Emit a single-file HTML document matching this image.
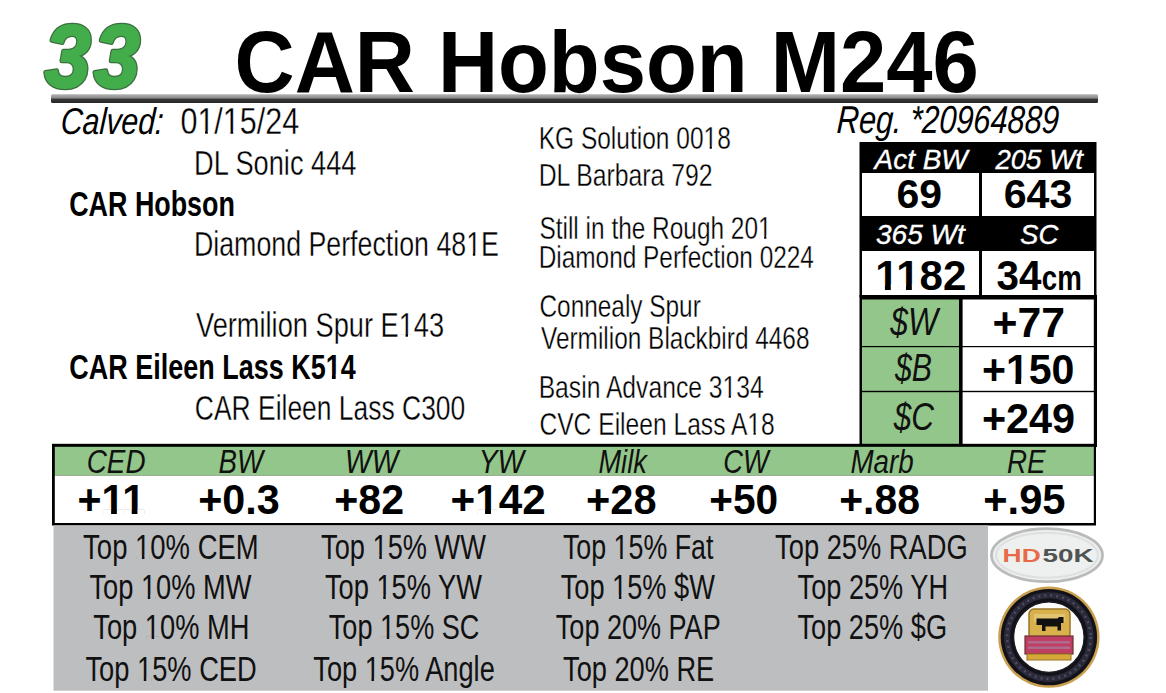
<!DOCTYPE html>
<html><head><meta charset="utf-8"><title>CAR Hobson M246</title>
<style>
html,body{margin:0;padding:0;background:#fff;width:1166px;height:693px;overflow:hidden}
svg{display:block}
text{font-family:"Liberation Sans",sans-serif;font-kerning:normal}
</style></head><body>
<svg width="1166" height="693" viewBox="0 0 1166 693">
<defs><linearGradient id="bar" x1="0" y1="0" x2="0" y2="1"><stop offset="0" stop-color="#b4b4b4"/><stop offset="0.45" stop-color="#8a8a8a"/><stop offset="0.55" stop-color="#3a3a3a"/><stop offset="1" stop-color="#262626"/></linearGradient></defs>
<rect x="51" y="94.2" width="1047" height="8.7" rx="1.5" fill="url(#bar)"/>
<rect x="859.5" y="142" width="237" height="155.5" fill="#000" />
<rect x="862" y="173" width="117" height="43" fill="#fff" />
<rect x="982" y="173" width="112" height="43" fill="#fff" />
<rect x="862" y="251" width="117" height="44" fill="#fff" />
<rect x="982" y="251" width="112" height="44" fill="#fff" />
<rect x="859.5" y="295" width="237.5" height="152" fill="#000" />
<rect x="862" y="299.5" width="97" height="46.5" fill="#93c68a" />
<rect x="862" y="347.2" width="97" height="43.6" fill="#93c68a" />
<rect x="862" y="392.2" width="97" height="51.8" fill="#93c68a" />
<rect x="962.6" y="299.5" width="131.2" height="46.5" fill="#fff" />
<rect x="962.6" y="347.2" width="131.2" height="43.6" fill="#fff" />
<rect x="962.6" y="392.2" width="131.2" height="51.8" fill="#fff" />
<rect x="52" y="443.8" width="1044" height="81.7" fill="#000" />
<rect x="54.8" y="446.8" width="1039" height="28.8" fill="#93c68a" />
<rect x="54.8" y="475.6" width="1039" height="47.4" fill="#fff" />
<rect x="53.5" y="525.4" width="934.5" height="165.3" fill="#bdbec0" />
<text transform="translate(44.65,86.84) scale(0.9379,1)" font-size="88.13" font-weight="bold" font-style="italic" fill="#3c6e40" stroke="#3c6e40" stroke-width="4.60" stroke-linejoin="round">3</text>
<text transform="translate(44.65,86.84) scale(0.9379,1)" font-size="88.13" font-weight="bold" font-style="italic" fill="#42ad4a" stroke="#42ad4a" stroke-width="2.00" stroke-linejoin="round">3</text>
<text transform="translate(94.05,86.84) scale(0.9379,1)" font-size="88.13" font-weight="bold" font-style="italic" fill="#3c6e40" stroke="#3c6e40" stroke-width="4.60" stroke-linejoin="round">3</text>
<text transform="translate(94.05,86.84) scale(0.9379,1)" font-size="88.13" font-weight="bold" font-style="italic" fill="#42ad4a" stroke="#42ad4a" stroke-width="2.00" stroke-linejoin="round">3</text>
<text transform="translate(234.58,91.70) scale(0.9542,1)" font-size="87.21" font-weight="bold" fill="#000" >CAR Hobson M246</text>
<text transform="translate(60.16,134.20) scale(0.8122,1) skewX(-4)" font-size="37.36" font-style="italic" fill="#000" >Calved:</text>
<text transform="translate(180.43,134.20) scale(0.8164,1)" font-size="37.36" fill="#000" stroke="#fff" stroke-width="0.3" vector-effect="non-scaling-stroke">01/15/24</text>
<text transform="translate(836.21,132.90) scale(0.7890,1) skewX(-4)" font-size="38.95" font-style="italic" fill="#000" >Reg. *20964889</text>
<text transform="translate(194.12,174.60) scale(0.7935,1)" font-size="34.30" fill="#000" stroke="#fff" stroke-width="0.3" vector-effect="non-scaling-stroke">DL Sonic 444</text>
<text transform="translate(69.22,215.60) scale(0.7837,1)" font-size="34.30" font-weight="bold" fill="#000" >CAR Hobson</text>
<text transform="translate(193.96,256.20) scale(0.7806,1)" font-size="34.30" fill="#000" stroke="#fff" stroke-width="0.3" vector-effect="non-scaling-stroke">Diamond Perfection 481E</text>
<text transform="translate(196.00,337.40) scale(0.7939,1)" font-size="34.30" fill="#000" stroke="#fff" stroke-width="0.3" vector-effect="non-scaling-stroke">Vermilion Spur E143</text>
<text transform="translate(69.21,378.60) scale(0.7868,1)" font-size="34.30" font-weight="bold" fill="#000" >CAR Eileen Lass K514</text>
<text transform="translate(194.86,419.90) scale(0.7713,1)" font-size="34.30" fill="#000" stroke="#fff" stroke-width="0.3" vector-effect="non-scaling-stroke">CAR Eileen Lass C300</text>
<text transform="translate(538.66,148.80) scale(0.7810,1)" font-size="31.40" fill="#000" stroke="#fff" stroke-width="0.3" vector-effect="non-scaling-stroke">KG Solution 0018</text>
<text transform="translate(538.63,185.90) scale(0.7889,1)" font-size="31.40" fill="#000" stroke="#fff" stroke-width="0.3" vector-effect="non-scaling-stroke">DL Barbara 792</text>
<text transform="translate(539.44,238.80) scale(0.7780,1)" font-size="31.40" fill="#000" stroke="#fff" stroke-width="0.3" vector-effect="non-scaling-stroke">Still in the Rough 201</text>
<text transform="translate(538.67,268.20) scale(0.7771,1)" font-size="31.40" fill="#000" stroke="#fff" stroke-width="0.3" vector-effect="non-scaling-stroke">Diamond Perfection 0224</text>
<text transform="translate(539.45,317.30) scale(0.7771,1)" font-size="31.40" fill="#000" stroke="#fff" stroke-width="0.3" vector-effect="non-scaling-stroke">Connealy Spur</text>
<text transform="translate(541.00,349.20) scale(0.7773,1)" font-size="31.40" fill="#000" stroke="#fff" stroke-width="0.3" vector-effect="non-scaling-stroke">Vermilion Blackbird 4468</text>
<text transform="translate(538.64,398.40) scale(0.7865,1)" font-size="31.40" fill="#000" stroke="#fff" stroke-width="0.3" vector-effect="non-scaling-stroke">Basin Advance 3134</text>
<text transform="translate(539.43,434.60) scale(0.7842,1)" font-size="31.40" fill="#000" stroke="#fff" stroke-width="0.3" vector-effect="non-scaling-stroke">CVC Eileen Lass A18</text>
<text transform="translate(874.50,168.50) scale(0.9969,1)" font-size="28.05" font-style="italic" fill="#fff" stroke="#fff" stroke-width="0.35" vector-effect="non-scaling-stroke">Act BW</text>
<text transform="translate(995.40,168.50) scale(0.9844,1)" font-size="28.05" font-style="italic" fill="#fff" stroke="#fff" stroke-width="0.35" vector-effect="non-scaling-stroke">205 Wt</text>
<text transform="translate(875.99,244.20) scale(1.0114,1)" font-size="27.76" font-style="italic" fill="#fff" stroke="#fff" stroke-width="0.35" vector-effect="non-scaling-stroke">365 Wt</text>
<text transform="translate(1020.01,244.20) scale(0.9946,1)" font-size="27.76" font-style="italic" fill="#fff" stroke="#fff" stroke-width="0.35" vector-effect="non-scaling-stroke">SC</text>
<text transform="translate(896.51,208.40) scale(0.9930,1)" font-size="41.28" font-weight="bold" fill="#000" >69</text>
<text transform="translate(1003.71,208.40) scale(0.9955,1)" font-size="41.28" font-weight="bold" fill="#000" >643</text>
<text transform="translate(875.15,289.80) scale(0.9841,1)" font-size="42.73" font-weight="bold" fill="#000" >1182</text>
<text transform="translate(996.55,289.80) scale(0.9457,1)" font-size="42.73" font-weight="bold" fill="#000" >34</text>
<text transform="translate(1041.83,289.80) scale(0.7694,1)" font-size="36.00" font-weight="bold" fill="#000" >cm</text>
<text transform="translate(890.30,334.70) scale(0.8230,1)" font-size="38.66" font-style="italic" fill="#111" >$W</text>
<text transform="translate(894.90,381.40) scale(0.7826,1)" font-size="38.66" font-style="italic" fill="#111" >$B</text>
<text transform="translate(893.70,430.40) scale(0.8143,1)" font-size="38.66" font-style="italic" fill="#111" >$C</text>
<text transform="translate(992.49,336.60) scale(1.0044,1)" font-size="42.59" font-weight="bold" fill="#000" >+77</text>
<text transform="translate(981.88,383.80) scale(0.9624,1)" font-size="42.73" font-weight="bold" fill="#000" >+150</text>
<text transform="translate(981.88,433.40) scale(0.9624,1)" font-size="43.02" font-weight="bold" fill="#000" >+249</text>
<text transform="translate(86.76,472.90) scale(0.8188,1)" font-size="34.01" font-style="italic" fill="#111" >CED</text>
<text transform="translate(218.49,472.90) scale(0.8143,1)" font-size="34.01" font-style="italic" fill="#111" >BW</text>
<text transform="translate(345.12,472.90) scale(0.8266,1)" font-size="34.01" font-style="italic" fill="#111" >WW</text>
<text transform="translate(478.79,472.90) scale(0.8283,1)" font-size="34.01" font-style="italic" fill="#111" >YW</text>
<text transform="translate(598.50,472.90) scale(0.7984,1)" font-size="34.01" font-style="italic" fill="#111" >Milk</text>
<text transform="translate(723.30,472.90) scale(0.8000,1)" font-size="34.01" font-style="italic" fill="#111" >CW</text>
<text transform="translate(850.38,472.90) scale(0.8173,1)" font-size="34.01" font-style="italic" fill="#111" >Marb</text>
<text transform="translate(1006.98,472.90) scale(0.8170,1)" font-size="34.01" font-style="italic" fill="#111" >RE</text>
<text transform="translate(77.59,514.40) scale(0.9650,1)" font-size="42.59" font-weight="bold" fill="#000" >+11</text>
<text transform="translate(198.16,514.40) scale(0.9700,1)" font-size="42.59" font-weight="bold" fill="#000" >+0.3</text>
<text transform="translate(334.37,514.40) scale(0.9652,1)" font-size="42.59" font-weight="bold" fill="#000" >+82</text>
<text transform="translate(450.62,514.40) scale(0.9913,1)" font-size="42.59" font-weight="bold" fill="#000" >+142</text>
<text transform="translate(586.05,514.40) scale(0.9754,1)" font-size="42.59" font-weight="bold" fill="#000" >+28</text>
<text transform="translate(709.29,514.40) scale(0.9536,1)" font-size="42.59" font-weight="bold" fill="#000" >+50</text>
<text transform="translate(839.18,514.40) scale(0.9605,1)" font-size="42.59" font-weight="bold" fill="#000" >+.88</text>
<text transform="translate(983.24,514.40) scale(0.9790,1)" font-size="42.59" font-weight="bold" fill="#000" >+.95</text>
<text transform="translate(83.11,558.90) scale(0.7881,1)" font-size="34.88" fill="#111" >Top 10% CEM</text>
<text transform="translate(89.42,598.50) scale(0.7816,1)" font-size="34.88" fill="#111" >Top 10% MW</text>
<text transform="translate(93.32,639.40) scale(0.7816,1)" font-size="34.88" fill="#111" >Top 10% MH</text>
<text transform="translate(85.42,681.10) scale(0.7824,1)" font-size="34.88" fill="#111" >Top 15% CED</text>
<text transform="translate(321.12,558.90) scale(0.7800,1)" font-size="34.88" fill="#111" >Top 15% WW</text>
<text transform="translate(324.92,598.50) scale(0.7820,1)" font-size="34.88" fill="#111" >Top 15% YW</text>
<text transform="translate(328.82,639.40) scale(0.7770,1)" font-size="34.88" fill="#111" >Top 15% SC</text>
<text transform="translate(313.32,681.10) scale(0.7800,1)" font-size="34.88" fill="#111" >Top 15% Angle</text>
<text transform="translate(562.93,558.90) scale(0.7687,1)" font-size="34.88" fill="#111" >Top 15% Fat</text>
<text transform="translate(555.82,639.40) scale(0.7757,1)" font-size="34.88" fill="#111" >Top 20% PAP</text>
<text transform="translate(775.12,558.90) scale(0.7823,1)" font-size="34.88" fill="#111" >Top 25% RADG</text>
<text transform="translate(797.62,598.50) scale(0.7783,1)" font-size="34.88" fill="#111" >Top 25% YH</text>
<text transform="translate(560.71,598.50) scale(0.7798,1)" font-size="34.88" fill="#111" >Top 15% $W</text>
<text transform="translate(563.05,681.10) scale(0.7798,1)" font-size="34.88" fill="#111" >Top 20% RE</text>
<text transform="translate(797.42,639.40) scale(0.7798,1)" font-size="34.88" fill="#111" >Top 25% $G</text>
<g id="feet"><g transform="translate(180.43,134.20) scale(0.8164,1)"><rect x="22.87" y="-3.49" width="7.22" height="4.39" fill="#fff"/><rect x="33.52" y="-3.49" width="6.99" height="4.39" fill="#fff"/><rect x="54.03" y="-3.49" width="7.22" height="4.39" fill="#fff"/><rect x="64.67" y="-3.49" width="6.99" height="4.39" fill="#fff"/></g>
<g transform="translate(193.96,256.20) scale(0.7806,1)"><rect x="350.55" y="-3.26" width="6.72" height="4.16" fill="#fff"/><rect x="360.42" y="-3.26" width="6.51" height="4.16" fill="#fff"/></g>
<g transform="translate(196.00,337.40) scale(0.7939,1)"><rect x="257.18" y="-3.26" width="6.71" height="4.16" fill="#fff"/><rect x="267.04" y="-3.26" width="6.50" height="4.16" fill="#fff"/></g>
<g transform="translate(69.21,378.60) scale(0.7868,1)"><rect x="327.34" y="-4.20" width="6.54" height="5.10" fill="#fff"/><rect x="338.72" y="-4.20" width="6.17" height="5.10" fill="#fff"/></g>
<g transform="translate(538.66,148.80) scale(0.7810,1)"><rect x="212.71" y="-3.05" width="6.21" height="3.95" fill="#fff"/><rect x="221.82" y="-3.05" width="6.03" height="3.95" fill="#fff"/></g>
<g transform="translate(539.44,238.80) scale(0.7780,1)"><rect x="282.59" y="-3.05" width="6.21" height="3.95" fill="#fff"/><rect x="291.70" y="-3.05" width="6.03" height="3.95" fill="#fff"/></g>
<g transform="translate(538.64,398.40) scale(0.7865,1)"><rect x="235.43" y="-3.05" width="6.20" height="3.95" fill="#fff"/><rect x="244.53" y="-3.05" width="6.02" height="3.95" fill="#fff"/></g>
<g transform="translate(539.43,434.60) scale(0.7842,1)"><rect x="266.78" y="-3.05" width="6.20" height="3.95" fill="#fff"/><rect x="275.89" y="-3.05" width="6.02" height="3.95" fill="#fff"/></g>
<g transform="translate(875.15,289.80) scale(0.9841,1)"><rect x="2.08" y="-5.06" width="7.84" height="5.96" fill="#fff"/><rect x="15.89" y="-5.06" width="7.35" height="5.96" fill="#fff"/><rect x="23.47" y="-5.06" width="7.84" height="5.96" fill="#fff"/><rect x="37.28" y="-5.06" width="7.35" height="5.96" fill="#fff"/></g>
<g transform="translate(981.88,383.80) scale(0.9624,1)"><rect x="27.00" y="-5.06" width="7.85" height="5.96" fill="#fff"/><rect x="40.82" y="-5.06" width="7.36" height="5.96" fill="#fff"/></g>
<g transform="translate(77.59,514.40) scale(0.9650,1)"><rect x="26.91" y="-5.05" width="7.83" height="5.95" fill="#fff"/><rect x="40.69" y="-5.05" width="7.34" height="5.95" fill="#fff"/><rect x="48.25" y="-5.05" width="7.83" height="5.95" fill="#fff"/><rect x="62.03" y="-5.05" width="7.34" height="5.95" fill="#fff"/></g>
<g transform="translate(450.62,514.40) scale(0.9913,1)"><rect x="26.94" y="-5.05" width="7.81" height="5.95" fill="#fff"/><rect x="40.69" y="-5.05" width="7.32" height="5.95" fill="#fff"/></g>
<g transform="translate(83.11,558.90) scale(0.7881,1)"><rect x="67.79" y="-3.31" width="6.81" height="4.21" fill="#bdbec0"/><rect x="77.82" y="-3.31" width="6.60" height="4.21" fill="#bdbec0"/></g>
<g transform="translate(89.42,598.50) scale(0.7816,1)"><rect x="67.79" y="-3.31" width="6.82" height="4.21" fill="#bdbec0"/><rect x="77.82" y="-3.31" width="6.61" height="4.21" fill="#bdbec0"/></g>
<g transform="translate(93.32,639.40) scale(0.7816,1)"><rect x="67.79" y="-3.31" width="6.82" height="4.21" fill="#bdbec0"/><rect x="77.82" y="-3.31" width="6.61" height="4.21" fill="#bdbec0"/></g>
<g transform="translate(85.42,681.10) scale(0.7824,1)"><rect x="67.76" y="-3.31" width="6.82" height="4.21" fill="#bdbec0"/><rect x="77.79" y="-3.31" width="6.61" height="4.21" fill="#bdbec0"/></g>
<g transform="translate(321.12,558.90) scale(0.7800,1)"><rect x="67.78" y="-3.31" width="6.82" height="4.21" fill="#bdbec0"/><rect x="77.82" y="-3.31" width="6.61" height="4.21" fill="#bdbec0"/></g>
<g transform="translate(324.92,598.50) scale(0.7820,1)"><rect x="67.77" y="-3.31" width="6.82" height="4.21" fill="#bdbec0"/><rect x="77.80" y="-3.31" width="6.61" height="4.21" fill="#bdbec0"/></g>
<g transform="translate(328.82,639.40) scale(0.7770,1)"><rect x="67.77" y="-3.31" width="6.82" height="4.21" fill="#bdbec0"/><rect x="77.81" y="-3.31" width="6.61" height="4.21" fill="#bdbec0"/></g>
<g transform="translate(313.32,681.10) scale(0.7800,1)"><rect x="67.78" y="-3.31" width="6.82" height="4.21" fill="#bdbec0"/><rect x="77.82" y="-3.31" width="6.61" height="4.21" fill="#bdbec0"/></g>
<g transform="translate(562.93,558.90) scale(0.7687,1)"><rect x="67.77" y="-3.31" width="6.83" height="4.21" fill="#bdbec0"/><rect x="77.81" y="-3.31" width="6.62" height="4.21" fill="#bdbec0"/></g>
<g transform="translate(560.71,598.50) scale(0.7798,1)"><rect x="67.79" y="-3.31" width="6.82" height="4.21" fill="#bdbec0"/><rect x="77.82" y="-3.31" width="6.61" height="4.21" fill="#bdbec0"/></g></g>
<g id="hd50k">
<ellipse cx="1047" cy="555.2" rx="55.5" ry="26.5" fill="#eef0ef" stroke="#b9bcbb" stroke-width="2.8"/>
<ellipse cx="1047" cy="555.2" rx="51" ry="22.5" fill="none" stroke="#dde0df" stroke-width="2"/>
<text transform="translate(1002.6,562.4) scale(1.42,1)" font-size="18.6" font-weight="bold" fill="#e56a45">HD</text>
<text transform="translate(1042.6,562.4) scale(1.50,1)" font-size="18.6" font-weight="bold" fill="#4f5452">50K</text>
</g>
<g id="badge">
<circle cx="1048.9" cy="637.1" r="50.7" fill="#c9a050"/>
<circle cx="1048.9" cy="637.1" r="48.2" fill="#121218"/>
<circle cx="1048.9" cy="637.1" r="41.8" fill="none" stroke="#2a2a3a" stroke-width="6"/>
<circle cx="1048.9" cy="637.1" r="41.8" fill="none" stroke="#6a6a82" stroke-width="2.5" stroke-dasharray="2 4" opacity="0.55"/>
<circle cx="1048.9" cy="637.1" r="35.2" fill="#fdfdfb" stroke="#1a1a22" stroke-width="1.2"/>
<rect x="1029" y="609" width="41" height="30" rx="5" fill="#d8b04c" stroke="#9a7428" stroke-width="1.5"/>
<rect x="1034" y="614" width="31" height="8" fill="#e8d08a" opacity="0.6"/>
<path d="M1036.5 618.5 h21 l1.5 -1.5 h4.5 v6 h-2.5 v7.5 h-3.5 v-4 h-12 v4.5 h-3.5 v-6 h-5.5z" fill="#111"/>
<rect x="1025" y="636" width="48" height="18" fill="#c03e64" stroke="#6a3030" stroke-width="1.2"/>
<rect x="1028" y="641" width="42" height="2.5" fill="#a87898" opacity="0.8"/>
<rect x="1028" y="646.5" width="42" height="2.5" fill="#a87898" opacity="0.8"/>
<rect x="1027" y="654" width="44" height="6" fill="#d5a838" stroke="#9a7428" stroke-width="1"/>
</g>


</svg>
</body></html>
